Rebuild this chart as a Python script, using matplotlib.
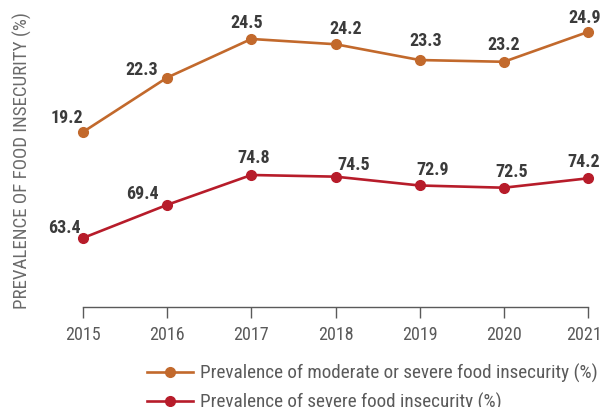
import matplotlib
matplotlib.use("Agg")
import matplotlib.pyplot as plt
from matplotlib import transforms

years = [2015, 2016, 2017, 2018, 2019, 2020, 2021]
moderate_or_severe = [19.2, 22.3, 24.5, 24.2, 23.3, 23.2, 24.9]
severe = [63.4, 69.4, 74.8, 74.5, 72.9, 72.5, 74.2]

label_moderate = "Prevalence of moderate or severe food insecurity (%)"
label_severe = "Prevalence of severe food insecurity (%)"
y_title = "PREVALENCE OF FOOD INSECURITY (%)"

ORANGE = "#c2692c"
RED = "#b71c2a"
DARK = "#3b3b3b"
GREY = "#5a5a5a"

plt.rcParams["font.family"] = ["Roboto Condensed", "Archivo Narrow", "Barlow Semi Condensed", "DejaVu Sans"]

fig = plt.figure(figsize=(6.01, 4.07), dpi=100)
ax = fig.add_axes([83 / 601, 100 / 407, 505 / 601, 307 / 407])
ax2 = ax.twinx()

ax.plot(years, moderate_or_severe, color=ORANGE, lw=1.9, marker="o", ms=7,
        label=label_moderate, clip_on=False, zorder=3)
ax2.plot(years, severe, color=RED, lw=1.9, marker="o", ms=7,
         label=label_severe, clip_on=False, zorder=3)

ax.set_ylim(9.23, 26.72)
ax2.set_ylim(50.91, 106.47)
ax.set_xlim(2015, 2021)

# label centre offsets in pixels (dx, dy) from each point
off_top = [(-16, 14), (-25, 8), (-5, 16), (10, 15), (6, 19), (0, 17), (-3, 14)]
off_bot = [(-19, 10), (-25, 11), (2, 17), (18, 12), (13, 15), (8, 16), (-4, 16)]

for x, v, (dx, dy) in zip(years, moderate_or_severe, off_top):
    ax.annotate(f"{v:.1f}", (x, v), xytext=(dx, dy), textcoords="offset pixels",
                ha="center", va="center", fontsize=13, fontweight="bold",
                color=DARK, annotation_clip=False)
for x, v, (dx, dy) in zip(years, severe, off_bot):
    ax2.annotate(f"{v:.1f}", (x, v), xytext=(dx, dy), textcoords="offset pixels",
                 ha="center", va="center", fontsize=13, fontweight="bold",
                 color=DARK, annotation_clip=False)

for a in (ax, ax2):
    for s in ("top", "right", "left"):
        a.spines[s].set_visible(False)
    a.set_yticks([])
ax.spines["bottom"].set_color(GREY)
ax.spines["bottom"].set_linewidth(1.0)
ax2.spines["bottom"].set_visible(False)

ax.set_xticks(years)
ax.tick_params(axis="x", direction="out", length=8, width=1.0, color=GREY,
               labelsize=13, labelcolor=GREY, pad=6)
# last year label sits against the right edge
last = ax.get_xticklabels()[-1]
last.set_transform(last.get_transform() + transforms.ScaledTranslation(-4 / 100, 0, fig.dpi_scale_trans))

fig.text(22 / 601, 1 - 161 / 407, y_title, rotation=90, ha="center", va="center",
         fontsize=13.6, color="#6a6a6a")

h1, l1 = ax.get_legend_handles_labels()
h2, l2 = ax2.get_legend_handles_labels()
fig.legend(h1 + h2, l1 + l2, loc="upper left", bbox_to_anchor=(147 / 601, 1 - 364 / 407),
           frameon=False, fontsize=13.8, labelcolor=GREY, handlelength=2.4,
           handletextpad=0.35, labelspacing=0.5, borderaxespad=0, borderpad=0)

fig.savefig("out.png", dpi=100)
